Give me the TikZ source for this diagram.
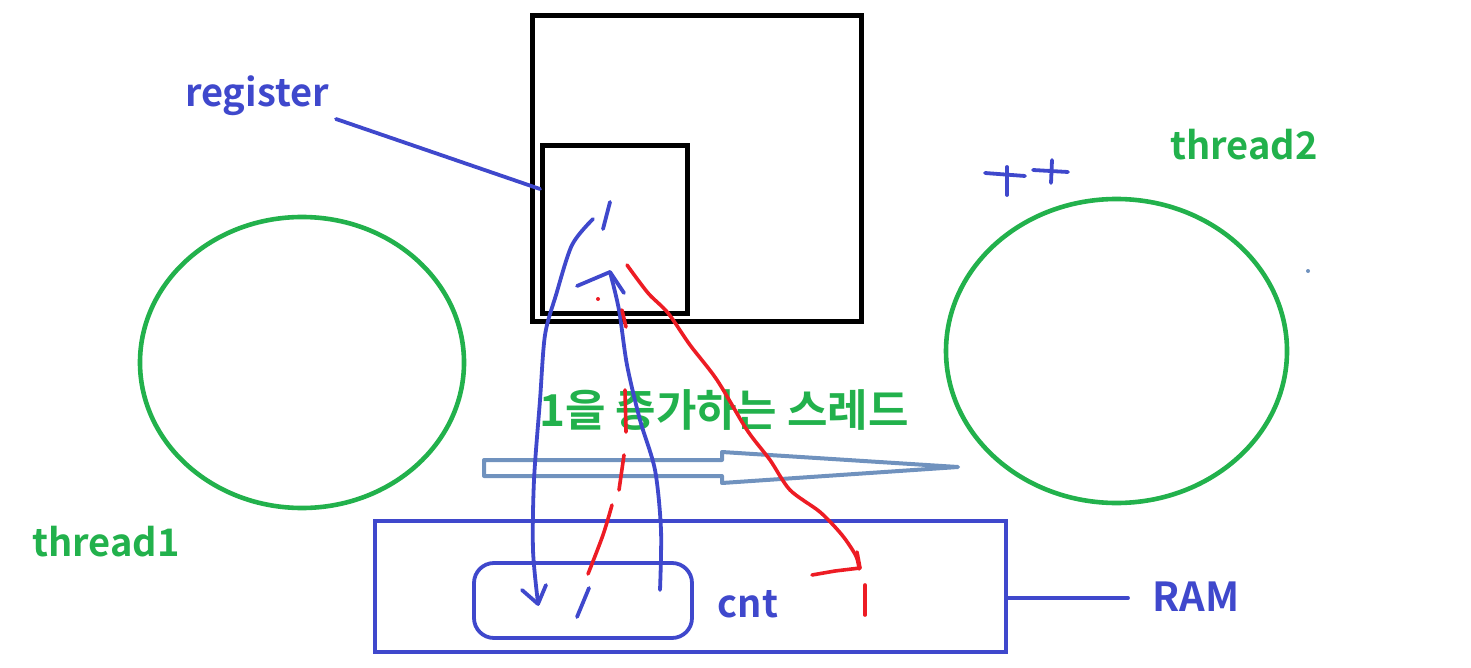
\documentclass[tikz,border=0pt]{standalone}
\usepackage{fontspec}
\setmainfont{Noto Sans CJK KR}[BoldFont={Noto Sans CJK KR Bold}]
\usetikzlibrary{shapes.geometric}
\definecolor{inkblue}{RGB}{63,72,204}
\definecolor{inkgreen}{RGB}{34,177,76}
\definecolor{inkred}{RGB}{237,28,36}
\definecolor{steel}{RGB}{112,146,190}

\begin{document}
\begin{tikzpicture}[x=0.5pt,y=-0.5pt,
	lbl/.style={font=\fontsize{19}{22}\selectfont\bfseries, inner sep=0pt},
	box/.style={draw, line width=2.5pt, inner sep=0pt},
	thread/.style={ellipse, draw=inkgreen, line width=2.3pt, inner sep=0pt},
	bluepen/.style={draw=inkblue, line width=1.9pt, line cap=round, line join=round},
	redpen/.style={draw=inkred, line width=1.8pt, line cap=round, line join=round}]

	\useasboundingbox (0,0) rectangle (1471,668);

	% cpu and register
	\node[box, minimum width=164.5pt, minimum height=152.5pt] (cpu) at (696.5,168.5) {};
	\node[box, minimum width=72.5pt, minimum height=83.5pt] (reg) at (614.5,229.5) {};

	% threads
	\node[thread, minimum width=162pt, minimum height=145.5pt] (t1) at (302,362.5) {};
	\node[thread, minimum width=170.5pt, minimum height=152pt] (t2) at (1116.5,351) {};

	% memory
	\node[box, draw=inkblue, line width=2pt, minimum width=315.5pt, minimum height=65.5pt] (ram) at (690.5,586.5) {};
	\node[box, draw=inkblue, line width=1.9pt, rounded corners=10pt, minimum width=109pt, minimum height=37.5pt] (cnt) at (583,600.5) {};

	% labels
	\node[lbl, text=inkblue] (reglbl) at (257,96) {register};
	\node[lbl, text=inkgreen] (t1lbl) at (106,542) {thread1};
	\node[lbl, text=inkgreen] (t2lbl) at (1244,145) {thread2};
	\node[lbl, text=inkblue] (cntlbl) at (748,604) {cnt};
	\node[lbl, text=inkblue, font=\fontsize{20}{24}\selectfont\bfseries] (ramlbl) at (1196,597) {RAM};
	\node[lbl, text=inkgreen, font=\fontsize{22}{26}\selectfont\bfseries] (inc) at (724,410) {1을 증가하는 스레드};

	% connectors
	\coordinate (regtip) at (540,189);
	\draw[bluepen] (336,119) -- (regtip);
	\draw[bluepen] (ram.east |- ramlbl) ++(0,1) -- (1128,598);

	% hollow arrow
	\draw[draw=steel, line width=2pt, line join=round]
		(484,460) -- (722,460) -- (722,452) -- (958,467) -- (722,483) -- (722,476) -- (484,476) -- cycle;

	% load: register <- cnt (up)
	\draw[bluepen] plot[smooth] coordinates {(660,590) (661,530) (655,470) (640,420) (627,365) (619,310) (610,272)};
	\draw[bluepen] (577,286) -- (610,272) -- (624,293);
	\draw[bluepen] (610,202) -- (603,229);

	% store: register -> cnt (down)
	\draw[bluepen] plot[smooth] coordinates {(593,219) (572,245) (556,295) (545,335) (540,400) (534,480) (533,550) (538,603)};
	\draw[bluepen] (522,590) -- (538,604) -- (546,585);
	\draw[bluepen] (589,588) -- (577,617);

	% thread2 view (red)
	\draw[redpen] (622,310) -- (626,327);
	\draw[redpen] (625,390) -- (626,432);
	\draw[redpen] (624,455) -- (619,490);
	\draw[redpen] plot[smooth] coordinates {(612,505) (603,535) (588,574)};
	\draw[redpen] plot[smooth] coordinates {(627,265) (648,293) (668,313) (690,345) (717,380) (747,430) (770,460) (790,490) (820,512) (842,535) (856,556) (859,569)};
	\draw[redpen] (812,575) -- (835,571) -- (860,568) -- (857,552);
	\draw[redpen] (865,585) -- (865,615);
	\fill[inkred] (598,299) circle (1pt);

	% ++
	\draw[bluepen] (985,173) -- (1025,176);
	\draw[bluepen] (1007,167) -- (1007,195);
	\draw[bluepen] (1033,170) -- (1068,172);
	\draw[bluepen] (1052,160) -- (1051,183);
	\fill[steel] (1308,271) circle (1pt);
\end{tikzpicture}
\end{document}
